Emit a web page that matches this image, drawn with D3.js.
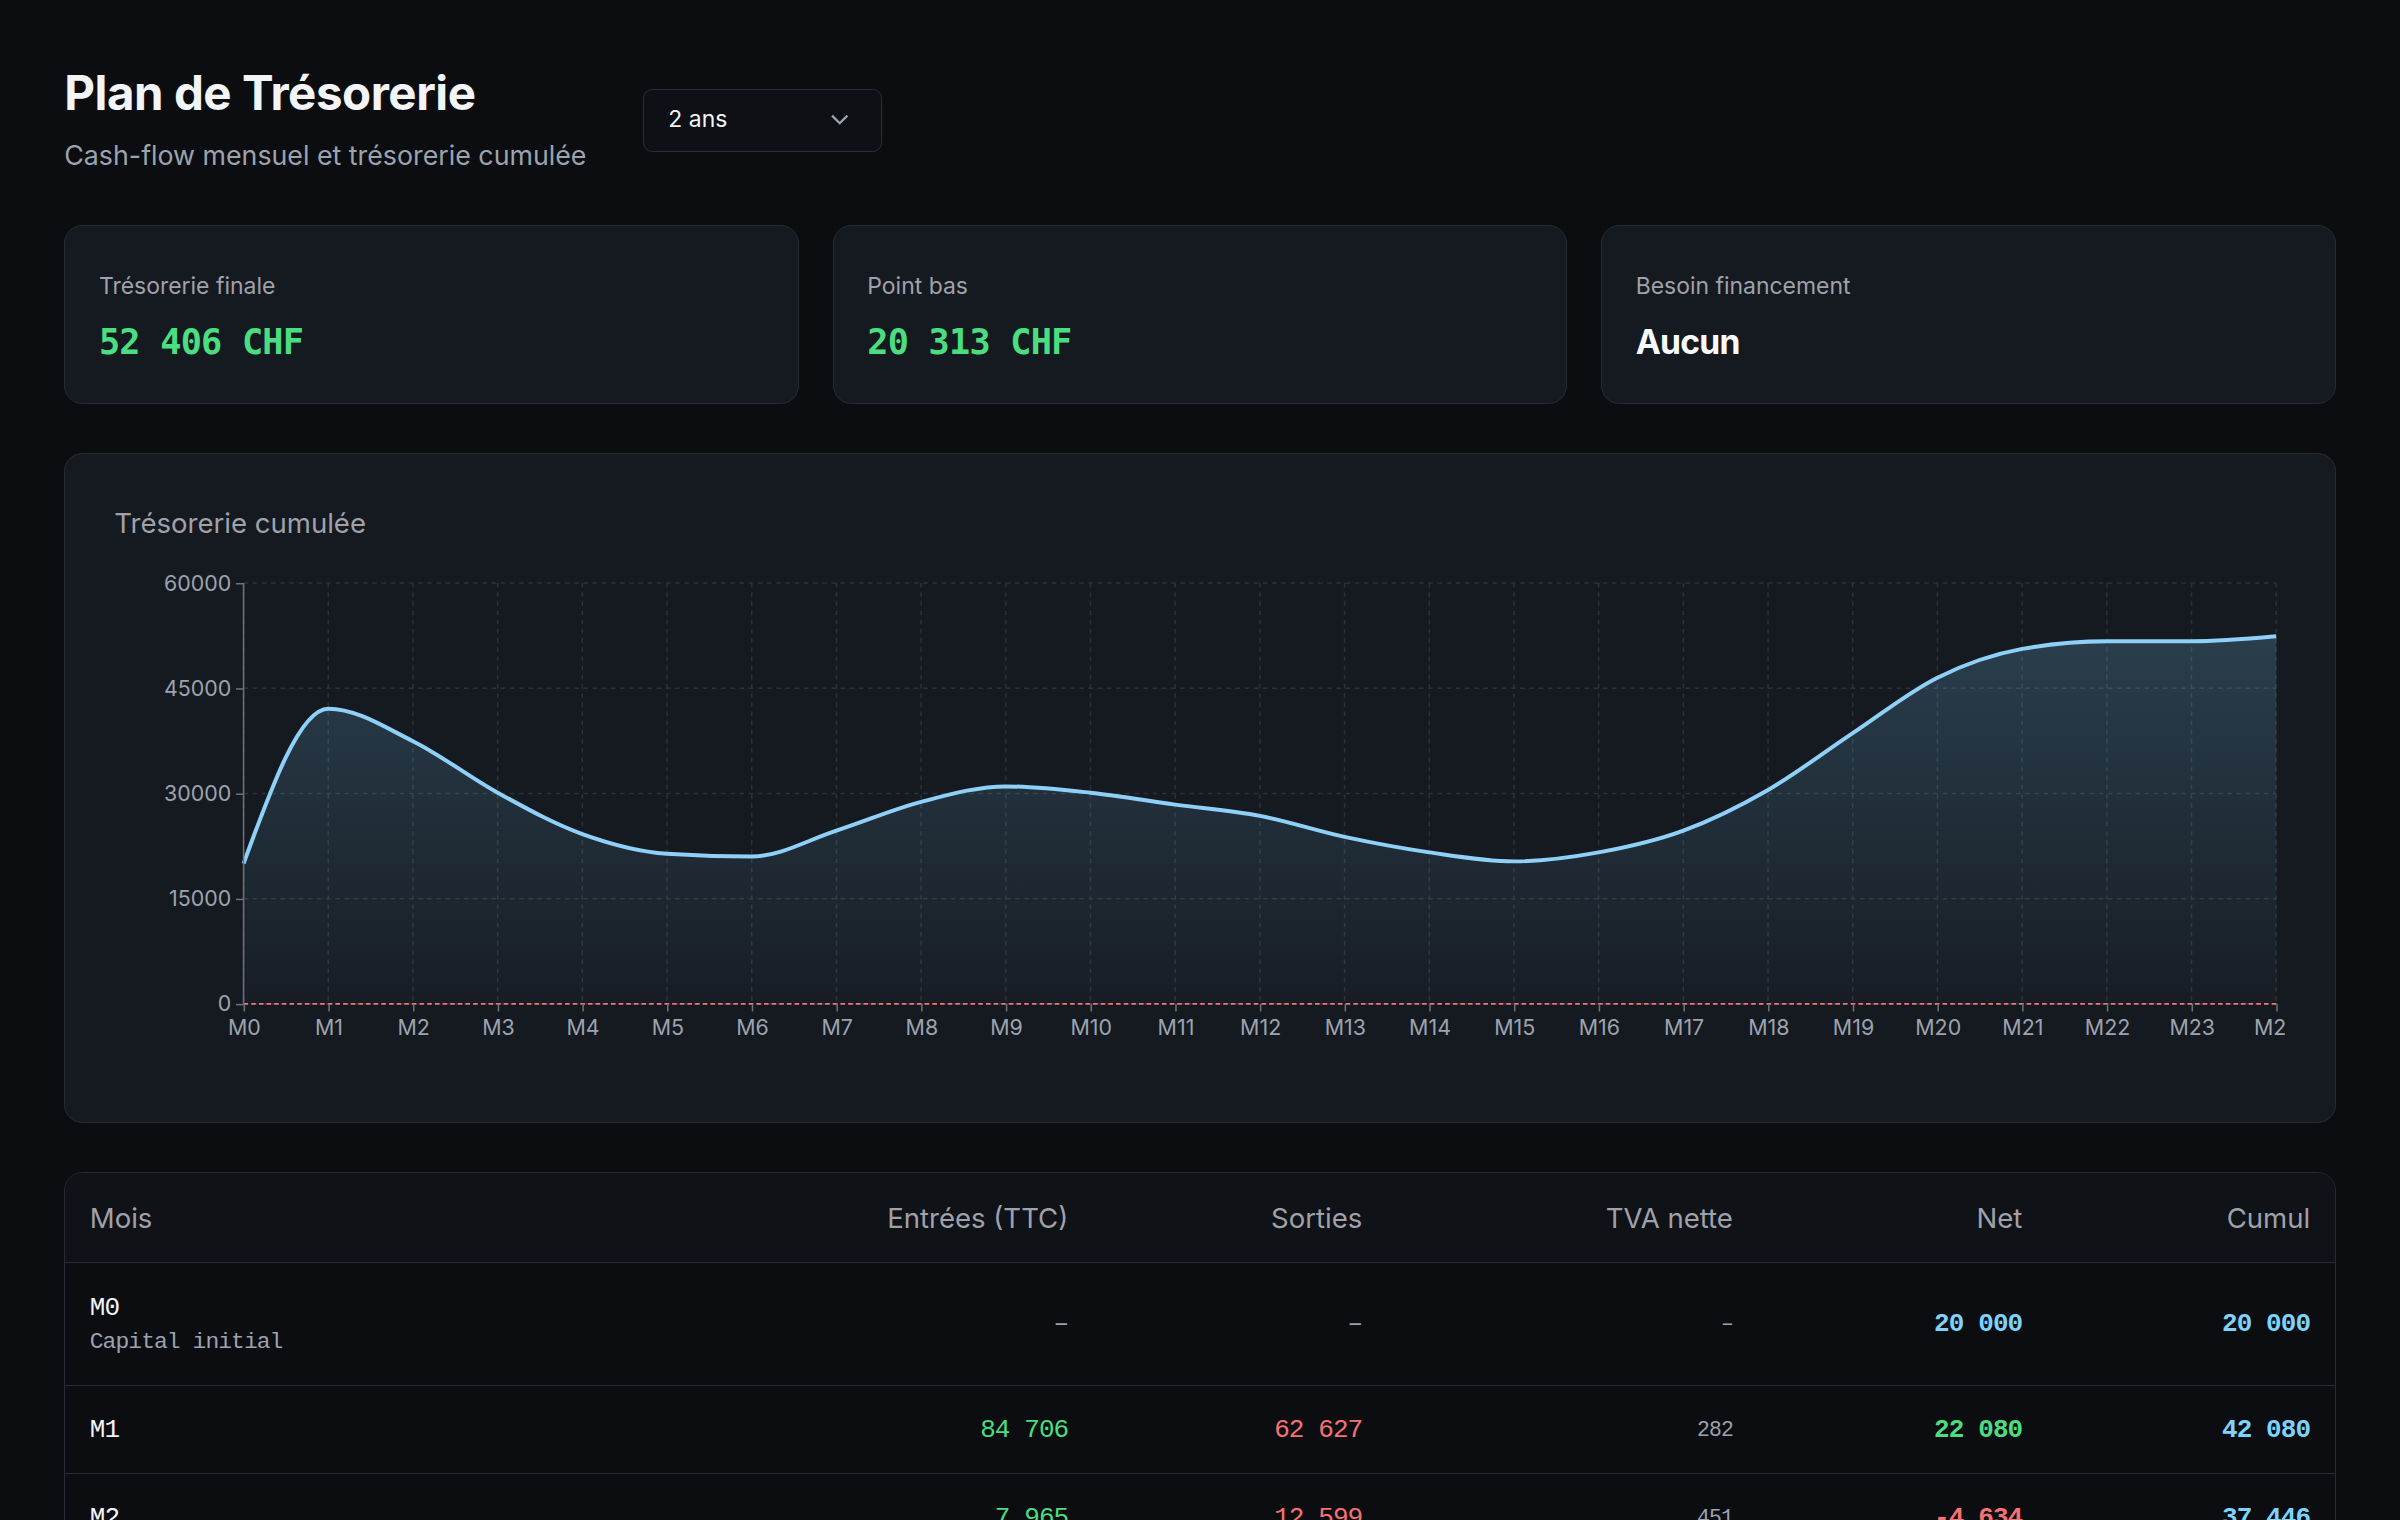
<!DOCTYPE html>
<html><head><meta charset="utf-8">
<script src="https://cdn.jsdelivr.net/npm/d3@7"></script>
<style>
html,body{margin:0;background:#0b0d11;overflow:hidden}
#page{zoom:1.5306;position:relative;width:1568px;height:993px;font-family:Inter,"Noto Sans",sans-serif;color:#f3f4f6}
.abs{position:absolute}
h1{position:absolute;left:42px;top:42px;margin:0;font-size:31px;font-weight:700;letter-spacing:-0.3px}
.sub{left:42px;top:91px;font-size:17.5px;color:#9ca3af}
.sel{left:420px;top:58px;width:156px;height:41px;border:1px solid #2a2f37;border-radius:6px;box-sizing:border-box;background:#0d1015}
.sel span{position:absolute;left:16px;top:10px;font-size:15px}
.card{background:#151920;border:1px solid #272c34;border-radius:12px;box-sizing:border-box}
.lbl{font-size:15px;color:#a1a1aa}
.val{font-family:"DejaVu Sans Mono",monospace;font-weight:700;font-size:23px;color:#4ade80;letter-spacing:-0.5px}
.mono{font-family:"Liberation Mono","DejaVu Sans Mono",monospace;letter-spacing:-0.6px}
table{border-collapse:collapse;width:100%;table-layout:fixed}
th{font-size:18px;font-weight:400;color:#a1a1aa;height:58px;text-align:right;padding:0 16px;border-bottom:1px solid #262b33;background:#0f1217}
td{text-align:right;padding:0 16px;border-bottom:1px solid #262b33;font-size:17px}
th:first-child,td:first-child{text-align:left}
</style></head>
<body><div id="page">
<h1>Plan de Trésorerie</h1>
<div class="abs sub">Cash-flow mensuel et trésorerie cumulée</div>
<div class="abs sel"><span>2 ans</span>
<svg class="abs" style="left:121px;top:14px" width="14" height="12"><path d="M2 3 L7 8 L12 3" fill="none" stroke="#9ca3af" stroke-width="1.5"/></svg></div>
<div id="kpis"></div>
<div class="abs card" style="left:42px;top:296px;width:1484px;height:438px">
<div class="abs" style="left:32px;top:34px;font-size:18px;color:#a1a1aa">Trésorerie cumulée</div>
</div>
<svg id="chart" class="abs" style="left:75px;top:366px" width="1418" height="320"></svg>
<div class="abs" style="left:42px;top:766px;width:1484px;height:260px;border:1px solid #262b33;border-radius:12px;overflow:hidden;box-sizing:border-box">
<table id="tbl"></table></div>
</div>
<script>
const months = d3.range(25).map(i => "M" + i);
const cumul = [20000, 42080, 37446, 30100, 24200, 21400, 21000, 24700, 28800, 31000, 30100, 28400, 26800,
  23800, 21600, 20313, 21600, 24700, 30500, 38600, 46500, 50600, 51700, 51700, 52406];
const yTicks = [0, 15000, 30000, 45000, 60000];
const kpiLabels = ["Trésorerie finale", "Point bas", "Besoin financement"];
const kpiValues = ["52 406  CHF", "20 313  CHF", "Aucun"];
const columns = ["Mois", "Entrées (TTC)", "Sorties", "TVA nette", "Net", "Cumul"];
const colWidths = [470, 201, 192, 242, 189, 188];
const rowsMois = ["M0", "M1", "M2"];
const rowsEntrees = ["–", "84 706", "7 965"];
const rowsSorties = ["–", "62 627", "12 599"];
const rowsTva = ["–", "282", "451"];
const rowsNet = ["20 000", "22 080", "-4 634"];
const rowsCumul = ["20 000", "42 080", "37 446"];

// KPI cards
const kp = d3.select("#kpis");
kpiLabels.forEach((l, i) => {
  const c = kp.append("div").attr("class", "abs card")
    .style("left", (42 + i * 502) + "px").style("top", "147px")
    .style("width", "480px").style("height", "117px");
  c.append("div").attr("class", "abs lbl").style("left", "22px").style("top", "30px").text(l);
  c.append("div").attr("class", "abs val").style("left", "22px").style("top", "62px")
    .style("color", i == 2 ? "#f9fafb" : "#4ade80")
    .style("font-family", i == 2 ? "Inter,sans-serif" : null)
    .style("font-size", i == 2 ? "22px" : null)
    .text(kpiValues[i]);
});

// chart
const svg = d3.select("#chart");
const m = { left: 84, right: 6, top: 15, bottom: 30 };
const H = 320;
const x = d3.scalePoint().domain(months).range([m.left, m.left + 1328]);
const y = d3.scaleLinear().domain([0, 60000]).range([H - m.bottom, m.top]);

const defs = svg.append("defs");
const g = defs.append("linearGradient").attr("id", "ar").attr("x1", 0).attr("x2", 0).attr("y1", 0).attr("y2", 1);
g.append("stop").attr("offset", "0%").attr("stop-color", "#7dd3fc").attr("stop-opacity", 0.2);
g.append("stop").attr("offset", "100%").attr("stop-color", "#7dd3fc").attr("stop-opacity", 0.02);

svg.append("g").selectAll("line").data(yTicks).join("line")
  .attr("x1", m.left).attr("x2", x("M24")).attr("y1", d => y(d)).attr("y2", d => y(d))
  .attr("stroke", "#2c3139").attr("stroke-dasharray", "3,3");
svg.append("g").selectAll("line").data(months).join("line")
  .attr("x1", d => x(d)).attr("x2", d => x(d)).attr("y1", y(60000)).attr("y2", y(0))
  .attr("stroke", "#2c3139").attr("stroke-dasharray", "3,3");

const curve = d3.curveMonotoneX;
svg.append("path").datum(cumul).attr("fill", "url(#ar)")
  .attr("d", d3.area().x((d, i) => x(months[i])).y0(y(0)).y1(d => y(d)).curve(curve));
svg.append("line").attr("x1", m.left).attr("x2", x("M24")).attr("y1", y(0)).attr("y2", y(0))
  .attr("stroke", "#f87171").attr("stroke-dasharray", "3,2").attr("stroke-width", 1.2);
svg.append("path").datum(cumul).attr("fill", "none").attr("stroke", "#8fd0f8").attr("stroke-width", 2.6)
  .attr("d", d3.line().x((d, i) => x(months[i])).y(d => y(d)).curve(curve));

const ax = svg.append("g").attr("transform", `translate(0,${y(0)})`)
  .call(d3.axisBottom(x).tickSize(5).tickSizeOuter(0));
const ay = svg.append("g").attr("transform", `translate(${m.left},0)`)
  .call(d3.axisLeft(y).tickValues(yTicks).tickFormat(d3.format("d")).tickSize(5).tickSizeOuter(0));
[ax, ay].forEach(a => {
  a.select(".domain").attr("stroke", "#6b7280");
  a.selectAll(".tick line").attr("stroke", "#6b7280");
  a.selectAll("text").attr("fill", "#9ca3af").style("font-size", "14px").style("font-family", "Inter,sans-serif");
});
ay.select(".domain").attr("d", `M0,${y(0)}V${y(60000)}`);
ax.select(".domain").remove();
ax.selectAll("text").attr("dy", "0.9em");

// table
const t = d3.select("#tbl");
t.append("colgroup").selectAll("col").data(colWidths).join("col").style("width", d => d + "px");
t.append("tr").selectAll("th").data(columns).join("th").text(d => d);
rowsMois.forEach((mo, i) => {
  const tr = t.append("tr").style("height", i == 0 ? "80px" : "58px");
  const td0 = tr.append("td").attr("class", "mono").style("color", "#f3f4f6");
  td0.append("div").text(mo);
  if (i == 0) td0.append("div").style("color", "#9ca3af").style("font-size", "15px").style("margin-top", "4px").text("Capital initial");
  const dash = rowsEntrees[i] == "–";
  tr.append("td").attr("class", "mono").style("color", dash ? "#9ca3af" : "#4ade80").text(rowsEntrees[i]);
  tr.append("td").attr("class", "mono").style("color", dash ? "#9ca3af" : "#f87171").text(rowsSorties[i]);
  tr.append("td").attr("class", "mono").style("color", "#9ca3af").style("font-size", "14px").text(rowsTva[i]);
  const neg = rowsNet[i].startsWith("-");
  tr.append("td").attr("class", "mono").style("font-weight", 700)
    .style("color", i == 0 ? "#7dd3fc" : neg ? "#f87171" : "#4ade80").text(rowsNet[i]);
  tr.append("td").attr("class", "mono").style("font-weight", 700).style("color", "#7dd3fc").text(rowsCumul[i]);
});
</script>
</body></html>
